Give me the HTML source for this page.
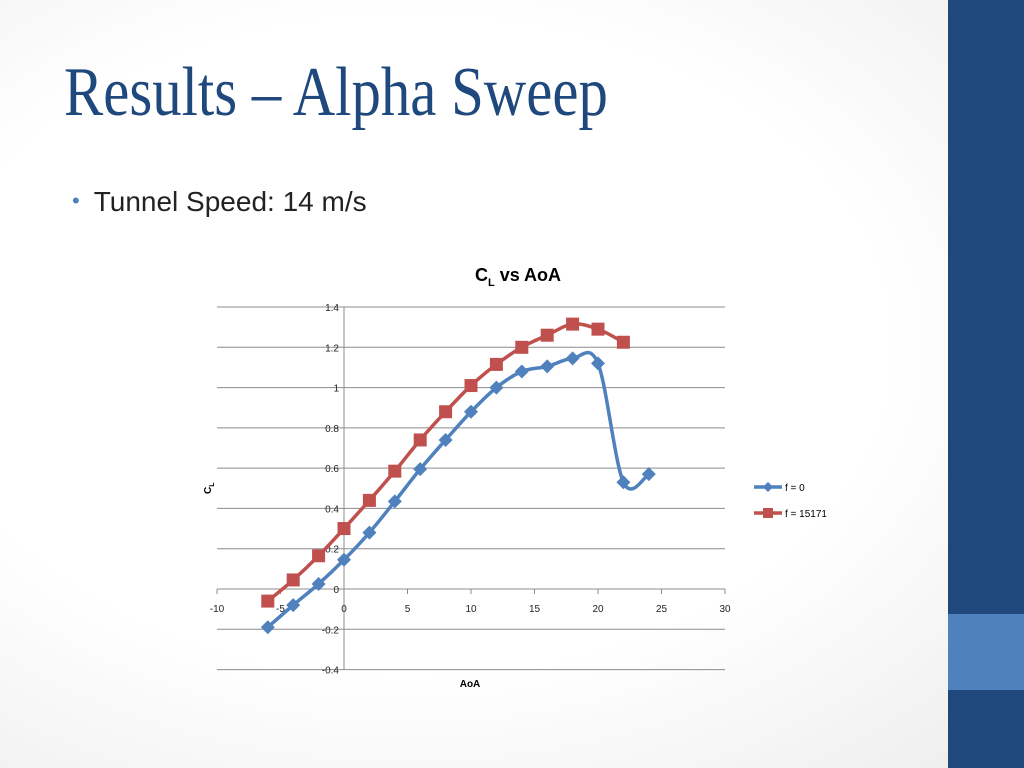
<!DOCTYPE html>
<html><head><meta charset="utf-8"><style>
body{margin:0;width:1024px;height:768px;overflow:hidden;background:radial-gradient(ellipse at 40% 45%,#ffffff 55%,#ececec 100%);font-family:"Liberation Sans",sans-serif;position:relative}
.bar{position:absolute;left:948px;top:0;width:76px;height:768px;background:#1f497d}
.bar2{position:absolute;left:948px;top:614px;width:76px;height:76px;background:#4f81bd}
h1{position:absolute;left:64px;top:58px;margin:0;font:400 70px/1 "Liberation Serif",serif;color:#1f497d;transform:scaleX(0.84);transform-origin:0 0;white-space:nowrap}
.bul{position:absolute;left:72px;top:186px;font-size:28px;color:#222;white-space:nowrap}
.bul span{color:#4f81bd;font-size:22px;margin-right:14px;position:relative;top:-3px}
</style></head><body>
<div class="bar"></div>
<div class="bar2"></div>
<h1>Results – Alpha Sweep</h1>
<div class="bul"><span>•</span>Tunnel Speed: 14 m/s</div>
<svg id="chart" width="1024" height="768" style="position:absolute;left:0;top:0"></svg>
<script>
const aoa0=[-6,-4,-2,0,2,4,6,8,10,12,14,16,18,20,22,24];
const cl0=[-0.19,-0.08,0.025,0.145,0.28,0.435,0.595,0.74,0.88,1.0,1.08,1.105,1.145,1.12,0.53,0.57];
const aoa1=[-6,-4,-2,0,2,4,6,8,10,12,14,16,18,20,22];
const cl1=[-0.06,0.045,0.165,0.3,0.44,0.585,0.74,0.88,1.01,1.115,1.2,1.26,1.315,1.29,1.225];
const xTicks=[-10,-5,0,5,10,15,20,25,30];
const yTicks=[-0.4,-0.2,0,0.2,0.4,0.6,0.8,1,1.2,1.4];
const NS="http://www.w3.org/2000/svg",svg=document.getElementById('chart');
const X=v=>217+(v+10)*(725-217)/40, Y=v=>589-v*(589-307)/1.4;
function mk(t,a,p){const e=document.createElementNS(NS,t);for(const k in a)e.setAttribute(k,a[k]);(p||svg).appendChild(e);return e;}
yTicks.forEach(v=>{
const l=mk('line',{x1:217,x2:725,y1:Y(v),y2:Y(v),stroke:'#8c8c8c','stroke-width':1});


const t=mk('text',{x:339,y:Y(v)+4,'text-anchor':'end','font-size':10,fill:'#222'});t.textContent=(v===0?'0':String(v));


});
const ax=mk('line',{x1:X(0),x2:X(0),y1:307,y2:670,stroke:'#8c8c8c'});


xTicks.forEach(v=>{
mk('line',{x1:X(v),x2:X(v),y1:589,y2:594,stroke:'#8c8c8c'});
const t=mk('text',{x:X(v),y:612,'text-anchor':'middle','font-size':10,fill:'#222'});t.textContent=v;


});
function path(xs,ys){const p=xs.map((x,i)=>[X(x),Y(ys[i])]);let d='M'+p[0];for(let i=0;i<p.length-1;i++){const a=p[i-1]||p[i],b=p[i],c=p[i+1],e=p[i+2]||c;d+=` C${b[0]+(c[0]-a[0])/6},${b[1]+(c[1]-a[1])/6} ${c[0]-(e[0]-b[0])/6},${c[1]-(e[1]-b[1])/6} ${c[0]},${c[1]}`;}return d;}
const s1=mk('path',{d:path(aoa1,cl1),fill:'none',stroke:'#c0504d','stroke-width':3.5});


aoa1.forEach((x,i)=>{const r=mk('rect',{x:X(x)-6.5,y:Y(cl1[i])-6.5,width:13,height:13,fill:'#c0504d'});

});
const s0=mk('path',{d:path(aoa0,cl0),fill:'none',stroke:'#4f81bd','stroke-width':3.5});


aoa0.forEach((x,i)=>{const cx=X(x),cy=Y(cl0[i]);const r=mk('polygon',{points:`${cx},${cy-7} ${cx+7},${cy} ${cx},${cy+7} ${cx-7},${cy}`,fill:'#4f81bd'});

});
const tt=mk('text',{x:518,y:281,'text-anchor':'middle','font-size':18,'font-weight':'bold',fill:'#000'});tt.innerHTML='C<tspan font-size="11" dy="5">L</tspan><tspan dy="-5"> vs AoA</tspan>';


const xt=mk('text',{x:470,y:687,'text-anchor':'middle','font-size':10,'font-weight':'bold'});xt.textContent='AoA';


const yt=mk('text',{x:0,y:0,'font-size':10,'font-weight':'bold',transform:'translate(211,494) rotate(-90)'});yt.innerHTML='C<tspan font-size="7" dy="3">L</tspan>';


[['f = 0','#4f81bd',487,'d'],['f = 15171','#c0504d',513,'s']].forEach(([lab,c,y,m])=>{
const g=mk('g',{});


mk('line',{x1:754,x2:782,y1:y,y2:y,stroke:c,'stroke-width':3.5},g);
if(m==='d')mk('polygon',{points:`768,${y-5} 773,${y} 768,${y+5} 763,${y}`,fill:c},g);else mk('rect',{x:763,y:y-5,width:10,height:10,fill:c},g);
const t=mk('text',{x:785,y:y+4,'font-size':10},g);t.textContent=lab;});
</script>
</body></html>
